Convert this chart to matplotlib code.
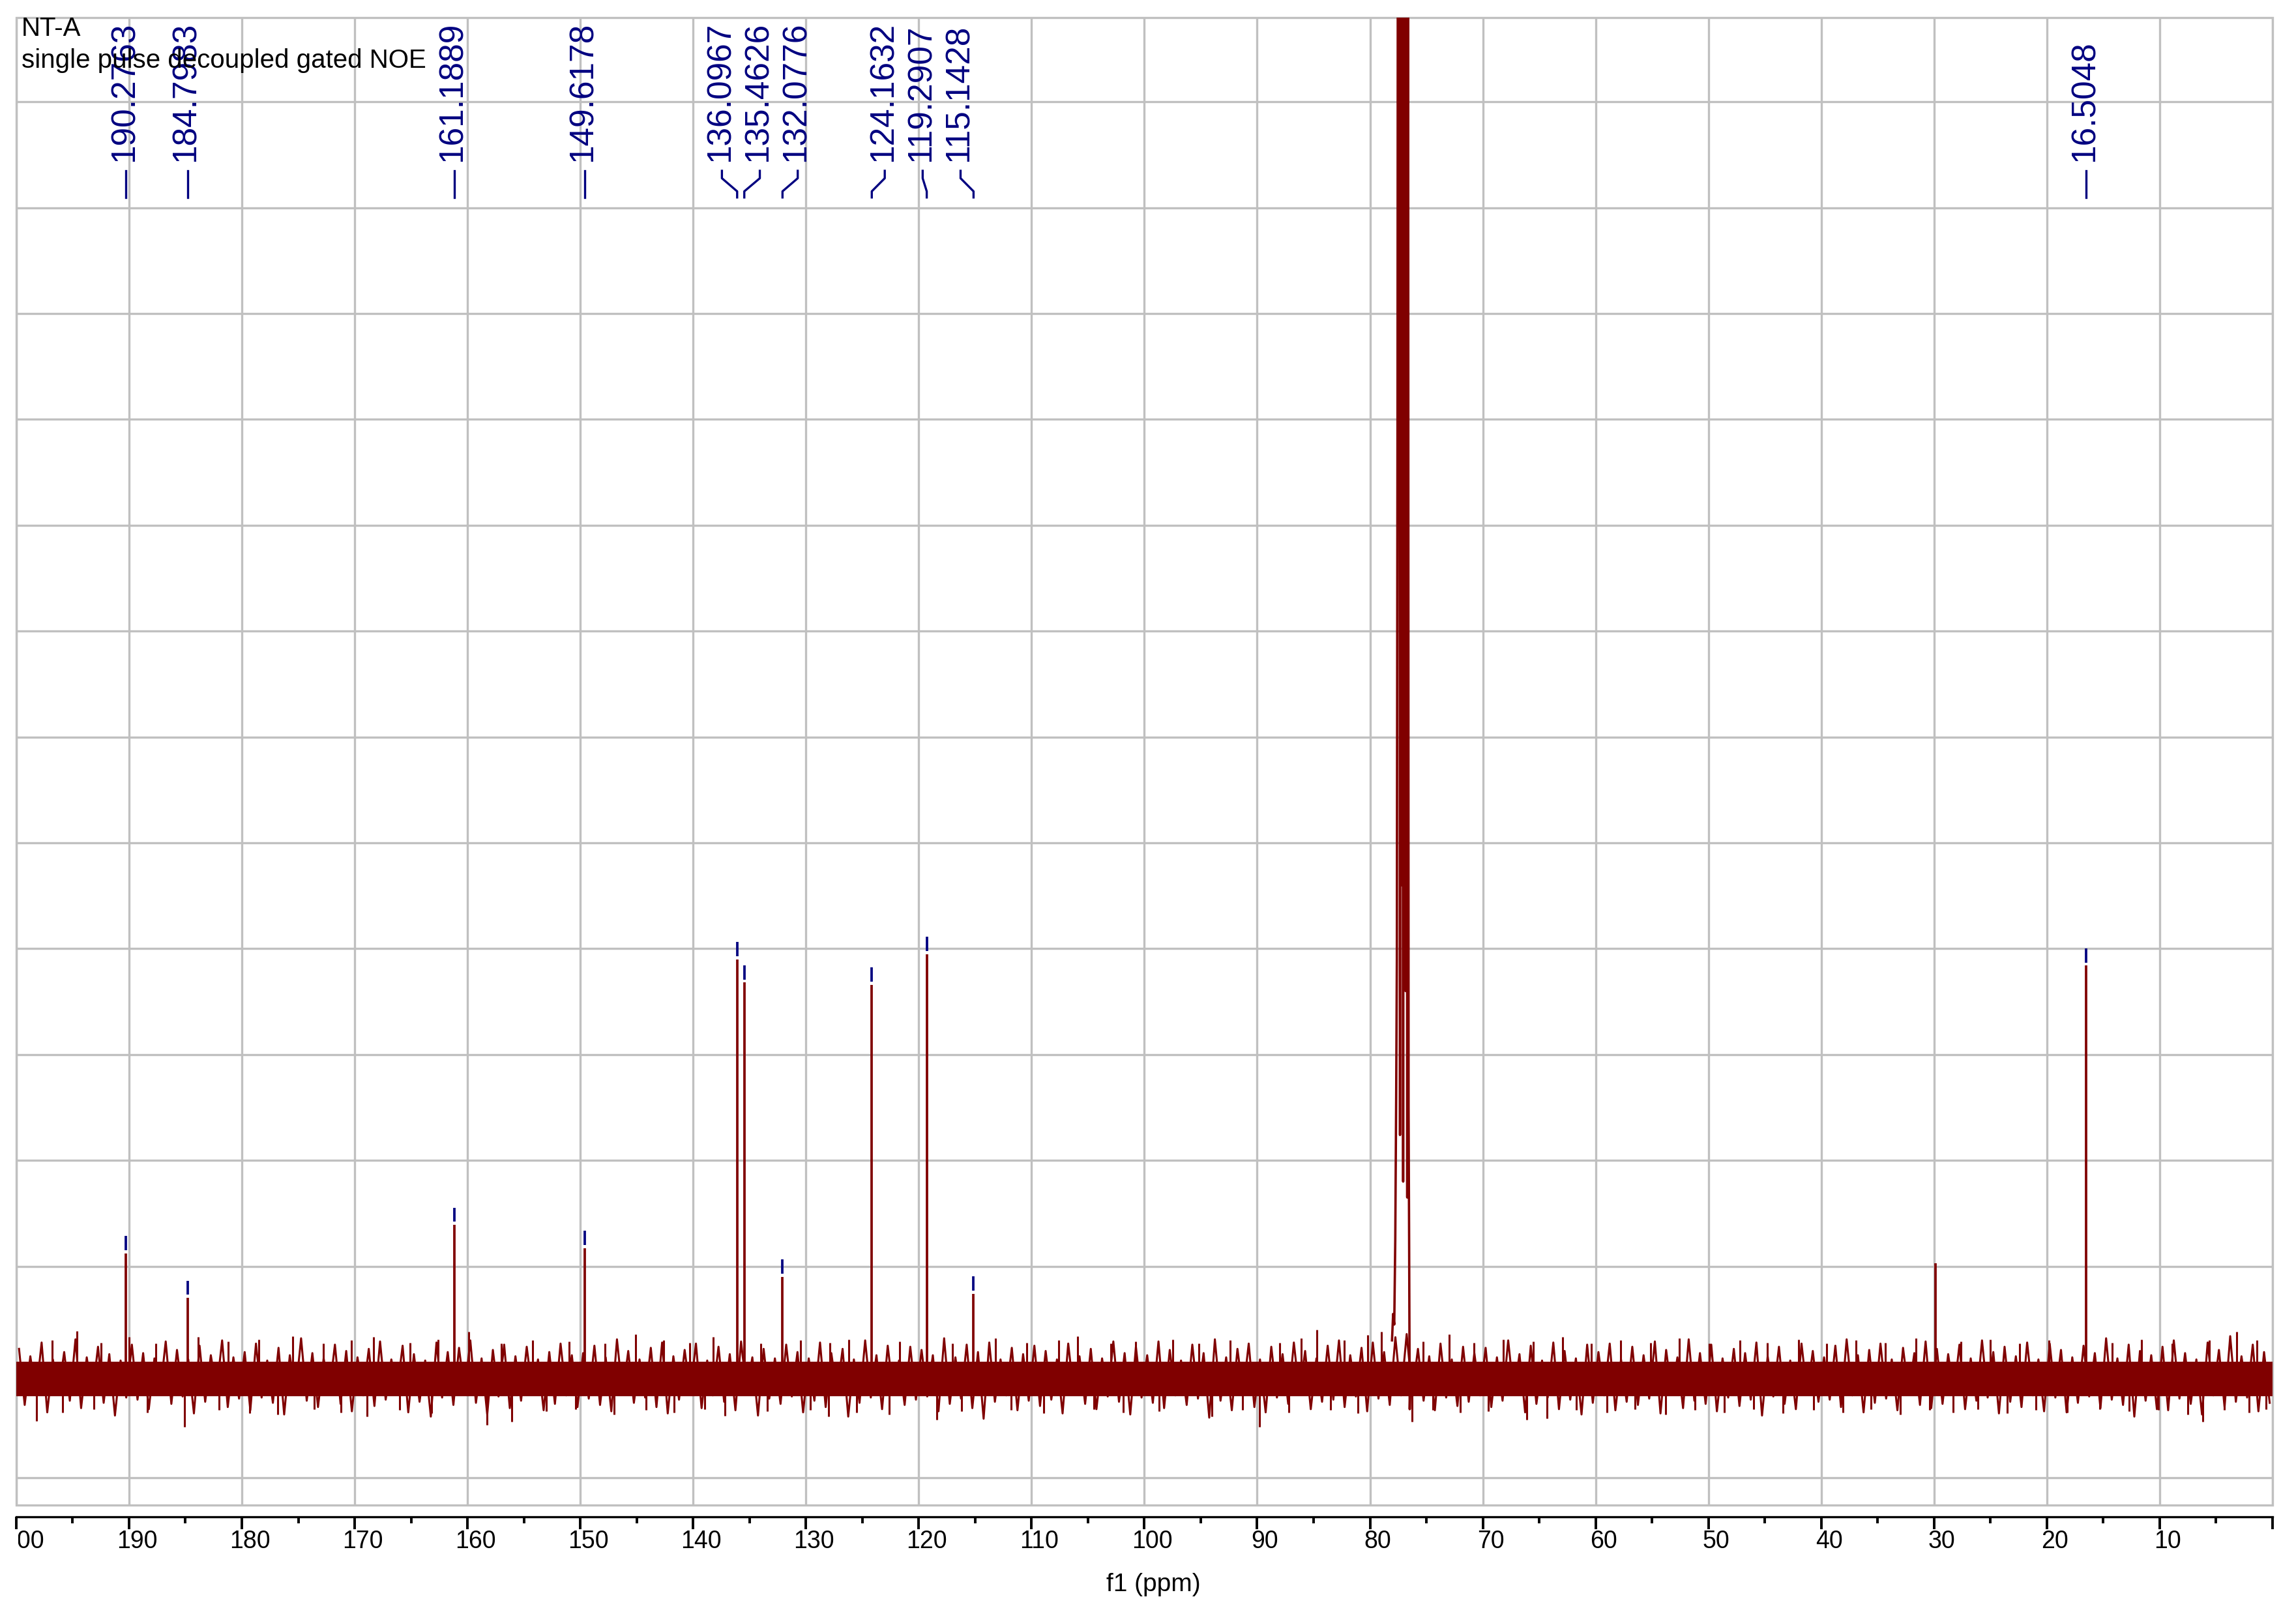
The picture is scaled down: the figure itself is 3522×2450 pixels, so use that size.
import numpy as np
import matplotlib
matplotlib.use("Agg")
import matplotlib.pyplot as plt
from matplotlib.patches import Rectangle
from matplotlib.transforms import Bbox, TransformedBbox, ScaledTranslation

# --- data -----------------------------------------------------------------
# picked peaks (ppm) and their heights in grid units
PEAK_PPM = [190.2763, 184.7983, 161.1889, 149.6178, 136.0967, 135.4626, 132.0776,
            124.1632, 119.2907, 115.1428, 16.5048]
PEAK_HEIGHT = [1.12, 0.70, 1.39, 1.17, 3.90, 3.68, 0.90, 3.66, 3.95, 0.74, 3.84]

# unlabelled line (grease)
EXTRA_PPM = [29.9]
EXTRA_HEIGHT = [1.03]

# CDCl3 triplet trace (goes off scale)
SOLVENT_PPM = [78.05, 77.95, 77.85, 77.76, 77.68, 77.62, 77.56, 77.50, 77.42, 77.34,
               77.28, 77.20, 77.12, 77.06, 77.00, 76.92, 76.84, 76.76, 76.70, 76.64,
               76.58, 76.53, 76.48, 76.42]
SOLVENT_Y = [0.30, 0.55, 0.45, 1.25, 2.6, 3.9, 9.4, 20.0, 20.0, 2.24,
             20.0, 4.6, 20.0, 1.8, 20.0, 20.0, 3.6, 20.0, 1.65, 20.0,
             2.5, 1.2, -0.35, -0.10]

# dense part of the baseline noise
NOISE_CORE = (-0.23, 0.10)
# noise extremes, 1 ppm bins from 200 down to 0
NOISE_HI = [
    0.22, 0.15, 0.28, 0.12, 0.19, 0.31, 0.14, 0.24, 0.17, 0.11,
    0.26, 0.18, 0.13, 0.29, 0.21, 0.12, 0.25, 0.16, 0.30, 0.14,
    0.19, 0.27, 0.11, 0.23, 0.16, 0.32, 0.18, 0.13, 0.26, 0.20,
    0.14, 0.22, 0.29, 0.12, 0.25, 0.17, 0.11, 0.28, 0.19, 0.23,
    0.30, 0.13, 0.21, 0.26, 0.15, 0.24, 0.12, 0.19, 0.27, 0.16,
    0.18, 0.25, 0.14, 0.31, 0.20, 0.12, 0.23, 0.28, 0.15, 0.21,
    0.27, 0.11, 0.24, 0.17, 0.29, 0.14, 0.22, 0.13, 0.26, 0.19,
    0.13, 0.28, 0.18, 0.22, 0.12, 0.30, 0.16, 0.25, 0.11, 0.24,
    0.21, 0.16, 0.32, 0.14, 0.26, 0.19, 0.28, 0.12, 0.23, 0.17,
    0.25, 0.20, 0.12, 0.27, 0.15, 0.22, 0.13, 0.29, 0.18, 0.24,
    0.16, 0.29, 0.21, 0.11, 0.26, 0.18, 0.31, 0.14, 0.22, 0.27,
    0.12, 0.24, 0.17, 0.28, 0.20, 0.13, 0.25, 0.30, 0.16, 0.23,
    0.28, 0.19, 0.33, 0.36, 0.22, 0.15, 0.27, 0.12, 0.24, 0.18,
    0.23, 0.14, 0.30, 0.17, 0.25, 0.11, 0.28, 0.20, 0.13, 0.26,
    0.19, 0.27, 0.12, 0.24, 0.16, 0.29, 0.21, 0.14, 0.31, 0.18,
    0.26, 0.13, 0.22, 0.18, 0.28, 0.15, 0.24, 0.11, 0.27, 0.20,
    0.14, 0.25, 0.31, 0.16, 0.21, 0.27, 0.12, 0.23, 0.18, 0.29,
    0.22, 0.17, 0.26, 0.13, 0.30, 0.19, 0.24, 0.15, 0.28, 0.12,
    0.27, 0.21, 0.14, 0.25, 0.18, 0.32, 0.13, 0.26, 0.20, 0.16,
    0.24, 0.30, 0.18, 0.12, 0.28, 0.21, 0.34, 0.15, 0.26, 0.19,
]
NOISE_LO = [
    -0.31, -0.22, -0.38, -0.19, -0.27, -0.34, -0.21, -0.29, -0.41, -0.24,
    -0.26, -0.35, -0.20, -0.30, -0.23, -0.39, -0.28, -0.18, -0.33, -0.25,
    -0.36, -0.24, -0.29, -0.40, -0.21, -0.27, -0.33, -0.19, -0.30, -0.37,
    -0.22, -0.32, -0.26, -0.18, -0.38, -0.28, -0.42, -0.24, -0.31, -0.20,
    -0.29, -0.40, -0.23, -0.34, -0.27, -0.19, -0.36, -0.30, -0.22, -0.33,
    -0.25, -0.31, -0.37, -0.21, -0.29, -0.24, -0.33, -0.39, -0.26, -0.20,
    -0.34, -0.22, -0.28, -0.36, -0.19, -0.41, -0.25, -0.30, -0.23, -0.38,
    -0.27, -0.33, -0.20, -0.42, -0.29, -0.24, -0.35, -0.21, -0.31, -0.26,
    -0.23, -0.37, -0.30, -0.25, -0.34, -0.44, -0.28, -0.22, -0.36, -0.27,
    -0.32, -0.26, -0.39, -0.21, -0.30, -0.35, -0.23, -0.28, -0.40, -0.24,
    -0.29, -0.34, -0.22, -0.31, -0.25, -0.43, -0.27, -0.36, -0.20, -0.33,
    -0.38, -0.24, -0.30, -0.21, -0.35, -0.28, -0.26, -0.33, -0.23, -0.37,
    -0.25, -0.31, -0.22, -0.20, -0.27, -0.36, -0.24, -0.32, -0.28, -0.22,
    -0.33, -0.27, -0.21, -0.38, -0.30, -0.24, -0.35, -0.26, -0.40, -0.29,
    -0.22, -0.36, -0.28, -0.31, -0.25, -0.39, -0.21, -0.34, -0.27, -0.30,
    -0.37, -0.24, -0.32, -0.26, -0.41, -0.23, -0.30, -0.35, -0.21, -0.28,
    -0.26, -0.33, -0.22, -0.38, -0.29, -0.25, -0.36, -0.20, -0.31, -0.34,
    -0.30, -0.21, -0.35, -0.27, -0.24, -0.39, -0.28, -0.33, -0.22, -0.37,
    -0.24, -0.38, -0.29, -0.23, -0.34, -0.26, -0.31, -0.42, -0.27, -0.35,
    -0.36, -0.25, -0.30, -0.40, -0.22, -0.33, -0.28, -0.24, -0.37, -0.29,
]

# individual noise spikes sticking out of the band
SPIKE_PPM = [194.6, 196.8, 192.5, 190.0, 187.6, 183.9, 181.2, 178.5, 175.5, 172.8,
             170.3, 168.3, 165.1, 162.6, 159.9, 157.0, 154.2, 151.0, 147.8, 145.1,
             142.6, 140.3, 138.2, 134.0, 130.5, 127.9, 126.2, 121.7, 117.0, 113.2,
             110.4, 107.6, 105.9, 103.0, 100.8, 97.5, 95.2, 92.4, 88.0, 86.1,
             84.7, 82.3, 80.2, 79.0, 75.3, 73.0, 70.8, 68.2, 65.5, 62.9,
             60.4, 57.8, 55.1, 52.6, 49.9, 47.2, 44.8, 42.0, 39.5, 36.9,
             34.3, 31.6, 27.6, 25.0, 22.4, 19.8, 14.2, 11.6, 8.9, 5.6,
             3.2, 1.4,
             198.2, 195.9, 193.1, 188.4, 185.1, 182.0, 179.3, 176.8, 173.6, 171.2,
             168.9, 166.0, 163.2, 158.3, 156.1, 153.0, 150.4, 147.0, 144.2, 141.7,
             139.0, 137.2, 133.4, 129.6, 128.0, 125.5, 122.6, 118.4, 116.2, 111.8,
             108.9, 104.5, 101.9, 98.7, 94.0, 91.3, 89.8, 87.2, 83.5, 81.1,
             76.3, 74.4, 72.0, 69.5, 66.1, 64.3, 61.7, 59.0, 56.5, 53.8,
             51.2, 48.6, 46.0, 43.4, 40.7, 38.1, 35.6, 33.0, 30.4, 28.3,
             26.1, 23.5, 21.0, 18.2, 15.3, 12.7, 10.1, 7.5, 6.2, 4.3,
             2.1, 0.6]
SPIKE_Y = [0.39, 0.30, 0.28, 0.33, 0.27, 0.33, 0.29, 0.31, 0.34, 0.27,
           0.30, 0.33, 0.28, 0.31, 0.38, 0.27, 0.30, 0.29, 0.27, 0.36,
           0.30, 0.28, 0.33, 0.27, 0.30, 0.28, 0.31, 0.29, 0.27, 0.32,
           0.28, 0.30, 0.34, 0.27, 0.29, 0.31, 0.27, 0.30, 0.28, 0.32,
           0.40, 0.30, 0.35, 0.38, 0.29, 0.36, 0.28, 0.31, 0.29, 0.33,
           0.27, 0.30, 0.28, 0.32, 0.27, 0.30, 0.28, 0.31, 0.27, 0.30,
           0.28, 0.32, 0.29, 0.31, 0.27, 0.30, 0.28, 0.31, 0.27, 0.30,
           0.38, 0.30,
           -0.46, -0.38, -0.35, -0.38, -0.52, -0.36, -0.39, -0.40, -0.35, -0.38,
           -0.42, -0.36, -0.39, -0.50, -0.47, -0.37, -0.35, -0.40, -0.36, -0.38,
           -0.35, -0.41, -0.37, -0.36, -0.42, -0.38, -0.40, -0.45, -0.37, -0.36,
           -0.39, -0.35, -0.38, -0.37, -0.42, -0.36, -0.52, -0.38, -0.36, -0.39,
           -0.47, -0.36, -0.38, -0.37, -0.45, -0.44, -0.36, -0.38, -0.35, -0.40,
           -0.36, -0.38, -0.35, -0.39, -0.36, -0.38, -0.35, -0.40, -0.36, -0.38,
           -0.35, -0.39, -0.36, -0.38, -0.35, -0.37, -0.36, -0.40, -0.47, -0.36,
           -0.38, -0.35]

TITLE = "NT-A"
SUBTITLE = "single pulse decoupled gated NOE"
XLABEL = "f1 (ppm)"

# --- style ----------------------------------------------------------------
SPEC = "#800000"
ANN = "#000080"
GRID = "#c0c0c0"
DPI = 100
plt.rcParams["font.family"] = ["Liberation Sans", "DejaVu Sans"]


def spread_labels(pos, gap, near):
    """Peaks closer than `near` form a cluster; labels in a cluster are spaced `gap` apart."""
    groups, cur = [], [pos[0]]
    for p in pos[1:]:
        if cur[-1] - p < near:
            cur.append(p)
        else:
            groups.append(cur); cur = [p]
    groups.append(cur)
    out = []
    for g in groups:
        mid = (g[0] + g[-1]) / 2
        top = mid + (len(g) - 1) * gap / 2
        out += [top - k * gap for k in range(len(g))]
    return out


fig = plt.figure(figsize=(35.22, 24.5), dpi=DPI)
ax = fig.add_axes([0.00707, 0.05755, 0.98270, 0.93143])
ax.set_xlim(200, 0)
ax.set_ylim(-1.256, 12.796)

# grid + frame
ax.set_xticks(np.arange(200, -1, -10))
ax.set_xticks(np.arange(195, 0, -10), minor=True)
ax.set_yticks(np.arange(-1, 13))
ax.grid(True, which="major", color=GRID, lw=2.4)
ax.set_axisbelow(True)
for s in ("top", "left", "right"):
    ax.spines[s].set_visible(False)
ax.spines["bottom"].set_position(("outward", 13))
ax.spines["bottom"].set_linewidth(2.4)
ax.add_patch(Rectangle((0, 0), 1, 1, transform=ax.transAxes, fill=False,
                       ec=GRID, lw=2.4, zorder=0.5, clip_on=False))
ax.tick_params(axis="y", left=False, labelleft=False)
ax.tick_params(axis="x", which="major", length=14, width=2.8, labelsize=27, pad=0.5)
ax.tick_params(axis="x", which="minor", length=7.5, width=2.8)
ax.set_xticklabels([f"{v:d}" for v in range(200, -1, -10)])

shift = ScaledTranslation(12 / DPI, 0, fig.dpi_scale_trans)
clip = TransformedBbox(Bbox([[0.0008, -1], [1, 1]]), ax.transAxes)
for lab in ax.get_xticklabels():
    lab.set_transform(lab.get_transform() + shift)
    lab.set_clip_box(clip)
    lab.set_clip_on(True)

# spectrum: dense noise core, zig-zag between bin extremes, single spikes, lines
bins = np.arange(199.5, 0, -1.0)
ax.fill_between(ax.get_xlim(), NOISE_CORE[0], NOISE_CORE[1], color=SPEC, lw=0, zorder=2)
zx = np.column_stack([bins + 0.25, bins - 0.25]).ravel()
zy = np.column_stack([NOISE_HI, NOISE_LO]).ravel()
ax.plot(zx, zy, color=SPEC, lw=2.2, zorder=2)
ax.vlines(SPIKE_PPM, 0, SPIKE_Y, color=SPEC, lw=2.2, zorder=2)
ax.vlines(PEAK_PPM, 0, PEAK_HEIGHT, color=SPEC, lw=2.7, zorder=3)
ax.vlines(EXTRA_PPM, 0, EXTRA_HEIGHT, color=SPEC, lw=2.7, zorder=3)
ax.plot(SOLVENT_PPM, SOLVENT_Y, color=SPEC, lw=2.6, zorder=3)

# peak markers just above each line
ph = np.array(PEAK_HEIGHT)
ax.vlines(PEAK_PPM, ph + 0.03, ph + 0.165, color=ANN, lw=2.7, zorder=4)

# rotated peak labels with leaders
xt = ax.get_xaxis_transform()
txt_tr = xt + ScaledTranslation(11 / DPI, 0, fig.dpi_scale_trans)
label_at = spread_labels(PEAK_PPM, gap=3.36, near=5.2)
for p, lx in zip(PEAK_PPM, label_at):
    ax.text(lx, 0.9032, f"{p:.4f}", transform=txt_tr, rotation=90,
            rotation_mode="anchor", ha="left", va="baseline",
            fontsize=37, color=ANN, zorder=5)
    ax.plot([lx, lx, p, p], [0.8970, 0.8920, 0.8832, 0.8791], transform=xt,
            color=ANN, lw=2.4, clip_on=False, zorder=5)

fig.text(33 / 3522, 1 - 55 / 2450, TITLE, fontsize=29, va="baseline")
fig.text(33 / 3522, 1 - 104 / 2450, SUBTITLE, fontsize=29, va="baseline")
fig.text(1769 / 3522, 1 - 2441 / 2450, XLABEL, fontsize=28, ha="center", va="baseline")

fig.savefig("out.png", dpi=DPI)
